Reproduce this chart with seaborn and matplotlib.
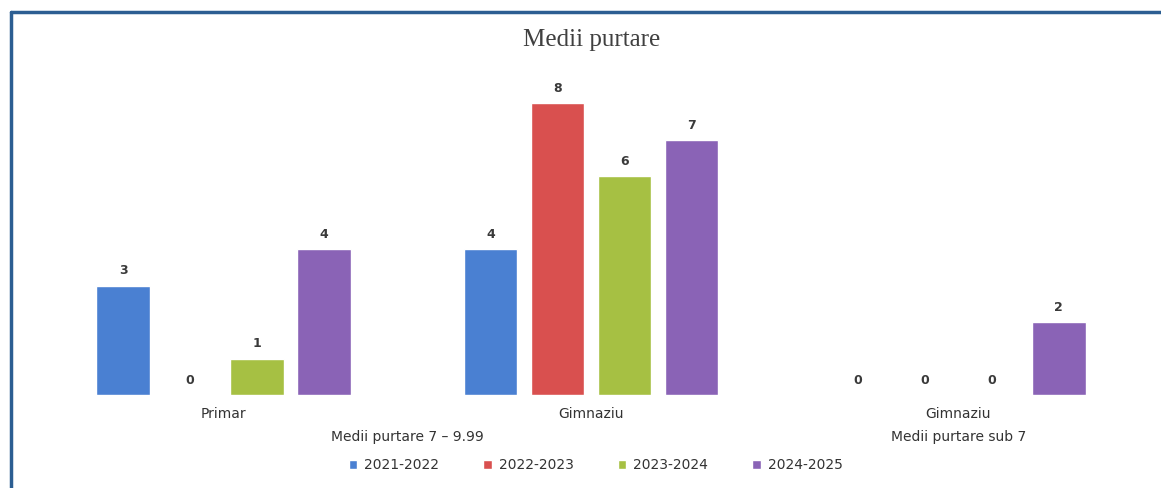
import numpy as np
import pandas as pd
import matplotlib
matplotlib.use("Agg")
import matplotlib.pyplot as plt
from matplotlib.lines import Line2D
import seaborn as sns

# data
groups = ["g1", "g2", "g3"]
group_labels = ["Primar", "Gimnaziu", "Gimnaziu"]
years = ["2021-2022", "2022-2023", "2023-2024", "2024-2025"]
v_2021 = [3, 4, 0]
v_2022 = [0, 8, 0]
v_2023 = [1, 6, 0]
v_2024 = [4, 7, 2]
colors = ["#4a80d2", "#d9504f", "#a6c043", "#8a63b6"]

rows = []
for yr, vals in zip(years, [v_2021, v_2022, v_2023, v_2024]):
    for g, v in zip(groups, vals):
        rows.append({"grupa": g, "an": yr, "elevi": v})
df = pd.DataFrame(rows)

sns.set_theme(style="white")
plt.rcParams['font.family'] = ['DejaVu Sans']

fig = plt.figure(figsize=(11.61, 4.88), dpi=100)
ax = fig.add_axes([0.0345, 0.1906, 0.949, 0.672])

sns.barplot(data=df, x="grupa", y="elevi", hue="an", order=groups,
            hue_order=years, palette=colors, width=0.73, gap=0.2,
            saturation=1, ax=ax)

for cont in ax.containers:
    ax.bar_label(cont, fmt="%d", padding=6, fontsize=9, fontweight="bold",
                 color="#3a3a3a")

ax.set_ylim(0, 9)
ax.set_xlim(-0.5, 2.5)
for s in ax.spines.values():
    s.set_visible(False)
ax.set_yticks([])
ax.set_xlabel("")
ax.set_ylabel("")
ax.set_xticks(range(len(groups)))
ax.set_xticklabels(group_labels, fontsize=10, color="#333333")
ax.tick_params(axis="x", length=0, pad=9)

# second level of the category axis
trans = ax.get_xaxis_transform()
ax.text(0.5, -0.128, "Medii purtare 7 \u2013 9.99", transform=trans,
        ha="center", va="center", fontsize=10, color="#333333")
ax.text(2, -0.128, "Medii purtare sub 7", transform=trans,
        ha="center", va="center", fontsize=10, color="#333333")

sns.move_legend(ax, "center", bbox_to_anchor=(0.513, 0.047),
                bbox_transform=fig.transFigure, ncol=4, frameon=False,
                title=None, fontsize=10, handlelength=0.6, handleheight=0.6,
                handletextpad=0.5, columnspacing=3.2)
for t in ax.get_legend().get_texts():
    t.set_color("#333333")

fig.text(0.51, 0.918, "Medii purtare", ha="center", va="center",
         fontsize=18, family="Liberation Serif", color="#404040")

# blue frame around the chart
fig.add_artist(Line2D([11 / 1161, 11 / 1161], [0, 1 - 12 / 488],
                      transform=fig.transFigure, color="#2c5e92", lw=2.5))
fig.add_artist(Line2D([11 / 1161, 1], [1 - 12 / 488, 1 - 12 / 488],
                      transform=fig.transFigure, color="#2c5e92", lw=2.5))

fig.savefig("out.png", dpi=100, facecolor="white")
